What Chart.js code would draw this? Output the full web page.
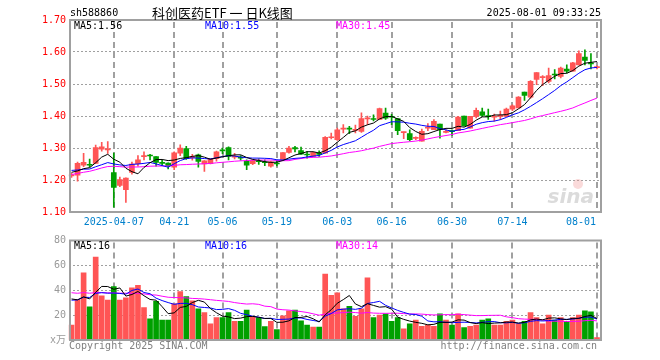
<!DOCTYPE html>
<html>
<head>
<meta charset="utf-8">
<script src="https://cdn.jsdelivr.net/npm/chart.js@4/dist/chart.umd.min.js"></script>
<style>
    html, body { margin: 0; padding: 0; background: #fff; }
    #wrap { position: relative; width: 660px; height: 360px; }
    canvas { position: absolute; left: 0; }
    #price { top: 0; }
    #volume { top: 232px; }
</style>
</head>
<body>
<div id="wrap">
    <canvas id="price" width="660" height="232"></canvas>
    <canvas id="volume" width="660" height="128"></canvas>
</div>
<script>
// trading days shown on the chart (2025)
const dates = [
    "03-26", "03-27", "03-28", "03-31", "04-01", "04-02", "04-03",
    "04-07", "04-08", "04-09", "04-10", "04-11",
    "04-14", "04-15", "04-16", "04-17", "04-18",
    "04-21", "04-22", "04-23", "04-24", "04-25",
    "04-28", "04-29", "04-30",
    "05-06", "05-07", "05-08", "05-09",
    "05-12", "05-13", "05-14", "05-15", "05-16",
    "05-19", "05-20", "05-21", "05-22", "05-23",
    "05-26", "05-27", "05-28", "05-29", "05-30",
    "06-03", "06-04", "06-05", "06-06",
    "06-09", "06-10", "06-11", "06-12", "06-13",
    "06-16", "06-17", "06-18", "06-19", "06-20",
    "06-23", "06-24", "06-25", "06-26", "06-27",
    "06-30", "07-01", "07-02", "07-03", "07-04",
    "07-07", "07-08", "07-09", "07-10", "07-11",
    "07-14", "07-15", "07-16", "07-17", "07-18",
    "07-21", "07-22", "07-23", "07-24", "07-25",
    "07-28", "07-29", "07-30", "07-31", "08-01"
]

const opens = [
    1.213, 1.215, 1.246, 1.248, 1.252, 1.296, 1.294,
    1.223, 1.183, 1.170, 1.224, 1.251,
    1.273, 1.277, 1.273, 1.254, 1.253,
    1.240, 1.284, 1.298, 1.270, 1.279,
    1.250, 1.251, 1.267,
    1.293, 1.301, 1.271, 1.272,
    1.258, 1.251, 1.259, 1.256, 1.243,
    1.252, 1.264, 1.286, 1.301, 1.292,
    1.280, 1.274, 1.282, 1.284, 1.332,
    1.326, 1.359, 1.361, 1.355,
    1.352, 1.391, 1.391, 1.389, 1.409,
    1.398, 1.392, 1.348, 1.345, 1.330,
    1.321, 1.362, 1.357, 1.375, 1.349,
    1.353, 1.354, 1.400, 1.362, 1.399,
    1.413, 1.400, 1.396, 1.399, 1.399,
    1.421, 1.425, 1.475, 1.459, 1.514,
    1.520, 1.508, 1.530, 1.524, 1.547,
    1.540, 1.560, 1.584, 1.565, 1.551
]
const highs = [
    1.222, 1.256, 1.283, 1.265, 1.309, 1.318, 1.320,
    1.284, 1.209, 1.207, 1.256, 1.276,
    1.288, 1.280, 1.273, 1.262, 1.254,
    1.288, 1.310, 1.305, 1.280, 1.281,
    1.261, 1.266, 1.290,
    1.300, 1.304, 1.283, 1.276,
    1.263, 1.263, 1.266, 1.263, 1.259,
    1.262, 1.286, 1.305, 1.305, 1.303,
    1.289, 1.287, 1.291, 1.336, 1.347,
    1.362, 1.373, 1.368, 1.372,
    1.410, 1.400, 1.404, 1.425, 1.425,
    1.405, 1.392, 1.350, 1.357, 1.335,
    1.359, 1.376, 1.389, 1.375, 1.357,
    1.357, 1.399, 1.400, 1.399, 1.425,
    1.425, 1.422, 1.406, 1.415, 1.425,
    1.435, 1.461, 1.475, 1.511, 1.536,
    1.526, 1.550, 1.545, 1.553, 1.560,
    1.568, 1.604, 1.607, 1.595, 1.557
]
const lows = [
    1.208, 1.196, 1.242, 1.240, 1.251, 1.290, 1.283,
    1.115, 1.179, 1.130, 1.218, 1.243,
    1.263, 1.263, 1.243, 1.245, 1.235,
    1.232, 1.276, 1.264, 1.262, 1.240,
    1.227, 1.250, 1.259,
    1.282, 1.263, 1.266, 1.262,
    1.232, 1.248, 1.249, 1.245, 1.240,
    1.244, 1.264, 1.284, 1.288, 1.280,
    1.268, 1.274, 1.274, 1.284, 1.328,
    1.324, 1.347, 1.345, 1.347,
    1.349, 1.373, 1.385, 1.389, 1.389,
    1.373, 1.342, 1.329, 1.322, 1.326,
    1.321, 1.354, 1.357, 1.331, 1.347,
    1.339, 1.354, 1.368, 1.362, 1.394,
    1.399, 1.389, 1.384, 1.389, 1.399,
    1.417, 1.425, 1.449, 1.456, 1.498,
    1.495, 1.503, 1.516, 1.519, 1.535,
    1.540, 1.560, 1.560, 1.547, 1.547
]
const closes = [
    1.216, 1.252, 1.255, 1.246, 1.301, 1.304, 1.296,
    1.177, 1.201, 1.206, 1.250, 1.263,
    1.276, 1.275, 1.255, 1.252, 1.245,
    1.285, 1.300, 1.267, 1.272, 1.258,
    1.260, 1.266, 1.288,
    1.291, 1.274, 1.273, 1.268,
    1.246, 1.261, 1.257, 1.254, 1.257,
    1.250, 1.286, 1.300, 1.297, 1.281,
    1.278, 1.286, 1.280, 1.333, 1.334,
    1.357, 1.361, 1.359, 1.357,
    1.392, 1.393, 1.389, 1.423, 1.393,
    1.396, 1.354, 1.350, 1.326, 1.332,
    1.352, 1.364, 1.383, 1.357, 1.351,
    1.351, 1.397, 1.370, 1.399, 1.418,
    1.402, 1.398, 1.398, 1.401, 1.422,
    1.432, 1.459, 1.464, 1.508, 1.536,
    1.523, 1.526, 1.528, 1.550, 1.540,
    1.566, 1.595, 1.574, 1.563, 1.553
]
// volume, in units of 10,000
const volumes = [
    12, 32.5, 54, 26.7, 66.7, 35.5, 32,
    43, 32, 34, 42, 44,
    26, 17, 31, 16, 16,
    29, 39, 35, 31.5, 25,
    22, 13, 18,
    18, 22, 15, 15,
    24, 19, 18, 10.7, 15,
    8.3, 19.5, 23.5, 24, 15.5,
    12, 10.4, 10.4, 53, 36,
    38, 25, 27, 19,
    25, 50, 18, 20, 21,
    15, 18, 9, 13, 16,
    11, 12, 11, 21, 16,
    12, 21, 10, 11, 12,
    16, 17, 12, 12, 15,
    16, 13, 15, 22, 18,
    13, 20, 16, 18, 15,
    18, 20, 23.5, 22.7, 2
]
// closes and volumes before the visible window (only feed the moving averages)
const earlierCloses = [
    1.15, 1.14, 1.16, 1.15, 1.14, 1.16, 1.15,
    1.24, 1.25, 1.24, 1.26, 1.25, 1.23, 1.24, 1.25, 1.24, 1.23, 1.24, 1.25, 1.24,
    1.24, 1.23, 1.24, 1.23, 1.24,
    1.23, 1.22, 1.23, 1.224
]
const earlierVolumes = [
    45, 38, 42, 50, 36, 40, 44, 38, 35, 46, 40, 42, 39, 37, 44, 41, 36, 43, 40, 44,
    30, 33, 28, 34, 30,
    36, 42, 35, 40
]

const tickDates = ["04-07", "04-21", "05-06", "05-19", "06-03", "06-16", "06-30", "07-14", "08-01"]
const tickLabels = ["2025-04-07", "04-21", "05-06", "05-19", "06-03", "06-16", "06-30", "07-14", "08-01"]
const priceTicks = [1.10, 1.20, 1.30, 1.40, 1.50, 1.60, 1.70]
const volumeTicks = [0, 20, 40, 60, 80]
const maPeriods = [5, 10, 30]
const priceMaLabels = ["MA5:1.56", "MA10:1.55", "MA30:1.45"]
const volumeMaLabels = ["MA5:16", "MA10:16", "MA30:14"]

const UP = "#ff5555"
const DOWN = "#00a000"
const MA_COLORS = ["#000000", "#0000ff", "#ff00ff"]
const GRID = "#a0a0a0"
const MONO = "'DejaVu Sans Mono', 'Liberation Mono', 'Noto Sans CJK SC', monospace"
const CJK = "'Noto Sans CJK SC', 'DejaVu Sans', sans-serif"

const tickIndexes = tickDates.map(d => dates.indexOf(d))
const candleColors = dates.map((d, i) => closes[i] >= opens[i] ? UP : DOWN)

function movingAverage(values, earlier, n) {
    const all = earlier.concat(values)
    return values.map((v, i) => {
        const end = earlier.length + i + 1
        const win = all.slice(end - n, end)
        return win.reduce((a, b) => a + b, 0) / n
    })
}

function maDatasets(values, earlier) {
    return maPeriods.map((n, k) => ({
        type: "line",
        label: "MA" + n,
        data: movingAverage(values, earlier, n),
        borderColor: MA_COLORS[k],
        borderWidth: 1,
        pointRadius: 0,
        tension: 0,
        order: 0
    }))
}

function xScale() {
    return {
        type: "category",
        offset: true,
        afterFit: s => { s.height = 0 },
        ticks: { display: false, autoSkip: false },
        grid: { display: false },
        border: { display: false }
    }
}

// the plot area starts 1.5px left of the drawn frame, as the candles do
function yScale(min, max, ticks, color, fmt) {
    return {
        min: min,
        max: max,
        afterFit: s => { s.width = 68.5 },
        afterBuildTicks: s => { s.ticks = ticks.map(v => ({ value: v })) },
        ticks: {
            color: color,
            padding: 2.5,
            font: { family: MONO, size: 10 },
            callback: fmt
        },
        grid: {
            drawTicks: false,
            lineWidth: 1,
            color: ctx => ctx.tick && (ctx.tick.value === min || ctx.tick.value === max) ? "rgba(0,0,0,0)" : GRID
        },
        border: { display: false, dash: [2, 2] }
    }
}

// dashed vertical lines at the labelled dates, drawn as short filled segments
function drawDateLines(chart) {
    const { ctx, chartArea: a } = chart
    const x = chart.scales.x
    ctx.save()
    ctx.fillStyle = GRID
    for (const idx of tickIndexes) {
        const px = Math.round(x.getPixelForValue(idx)) - 1
        for (let y = a.top + 2; y < a.bottom - 1; y += 10) {
            ctx.fillRect(px, y, 2, Math.min(6, a.bottom - 1 - y))
        }
    }
    ctx.restore()
}

function drawFrame(chart) {
    const { ctx, chartArea: a } = chart
    ctx.save()
    ctx.strokeStyle = "#a0a0a0"
    ctx.lineWidth = 2
    ctx.strokeRect(a.left + 1.5, a.top, a.right - a.left - 0.5, a.bottom - a.top)
    ctx.restore()
}

function drawMaLabels(chart, labels, y) {
    const ctx = chart.ctx
    const xs = [74, 205, 336]
    ctx.save()
    ctx.font = "10px " + MONO
    ctx.textBaseline = "middle"
    labels.forEach((t, k) => {
        ctx.fillStyle = MA_COLORS[k]
        ctx.fillText(t, xs[k], y)
    })
    ctx.restore()
}

const pricePlugin = {
    id: "priceDecor",
    beforeDatasetsDraw(chart) {
        drawDateLines(chart)
    },
    afterDraw(chart) {
        const { ctx, chartArea: a } = chart
        drawFrame(chart)
        drawMaLabels(chart, priceMaLabels, a.top + 6)

        ctx.save()
        ctx.textBaseline = "middle"
        ctx.fillStyle = "#000"
        ctx.font = "10px " + MONO
        ctx.fillText("sh588860", 70, 13)
        ctx.textAlign = "right"
        ctx.fillText("2025-08-01 09:33:25", 601, 13)
        ctx.textAlign = "left"
        ctx.font = "13px " + CJK
        ctx.fillText("科创医药ETF 一 日K线图", 152, 13)

        // date labels under the price panel
        const x = chart.scales.x
        ctx.font = "10px " + MONO
        ctx.fillStyle = "#0080cc"
        tickIndexes.forEach((idx, k) => {
            const w = ctx.measureText(tickLabels[k]).width
            let left = x.getPixelForValue(idx) - w / 2
            if (left + w > a.right - 4) left = a.right - 4 - w
            ctx.fillText(tickLabels[k], left, 222)
        })

        // faint sina watermark
        ctx.font = "italic bold 20px 'DejaVu Sans', sans-serif"
        ctx.fillStyle = "rgba(190,190,190,0.55)"
        ctx.textAlign = "right"
        ctx.fillText("sina", a.right - 6, a.bottom - 14)
        ctx.fillStyle = "rgba(240,150,150,0.35)"
        ctx.beginPath()
        ctx.arc(a.right - 22, a.bottom - 28, 5, 0, Math.PI * 2)
        ctx.fill()
        ctx.restore()
    }
}

const volumePlugin = {
    id: "volumeDecor",
    beforeDatasetsDraw(chart) {
        drawDateLines(chart)
    },
    afterDraw(chart) {
        const { ctx, chartArea: a } = chart
        drawFrame(chart)
        drawMaLabels(chart, volumeMaLabels, a.top + 6)
        ctx.save()
        ctx.font = "10px " + MONO
        ctx.fillStyle = "#808080"
        ctx.textBaseline = "middle"
        ctx.fillText("Copyright 2025 SINA.COM", 69, a.bottom + 6)
        ctx.textAlign = "right"
        ctx.fillText("http://finance.sina.com.cn", 597, a.bottom + 6)
        ctx.restore()
    }
}

Chart.defaults.font.family = MONO

new Chart(document.getElementById("price"), {
    type: "bar",
    data: {
        labels: dates,
        datasets: [
            ...maDatasets(closes, earlierCloses),
            {
                label: "body",
                data: dates.map((d, i) => [opens[i], closes[i]]),
                backgroundColor: candleColors,
                barThickness: 5,
                minBarLength: 1,
                grouped: false,
                order: 1
            },
            {
                label: "wick",
                data: dates.map((d, i) => [lows[i], highs[i]]),
                backgroundColor: candleColors,
                barThickness: 1,
                grouped: false,
                order: 2
            }
        ]
    },
    options: {
        responsive: false,
        animation: false,
        layout: { padding: { left: 0, right: 60, top: 20, bottom: 20 } },
        plugins: { legend: { display: false }, tooltip: { enabled: false } },
        scales: {
            x: xScale(),
            y: yScale(1.10, 1.70, priceTicks, "#ff0000", v => v.toFixed(2))
        }
    },
    plugins: [pricePlugin]
})

new Chart(document.getElementById("volume"), {
    type: "bar",
    data: {
        labels: dates,
        datasets: [
            ...maDatasets(volumes, earlierVolumes),
            {
                label: "volume",
                data: volumes,
                backgroundColor: candleColors,
                barThickness: 5,
                grouped: false,
                order: 1
            }
        ]
    },
    options: {
        responsive: false,
        animation: false,
        layout: { padding: { left: 0, right: 60, top: 8, bottom: 20 } },
        plugins: { legend: { display: false }, tooltip: { enabled: false } },
        scales: {
            x: xScale(),
            y: yScale(0, 80, volumeTicks, "#999999", v => v === 0 ? "x万" : String(v))
        }
    },
    plugins: [volumePlugin]
})
</script>
</body>
</html>
